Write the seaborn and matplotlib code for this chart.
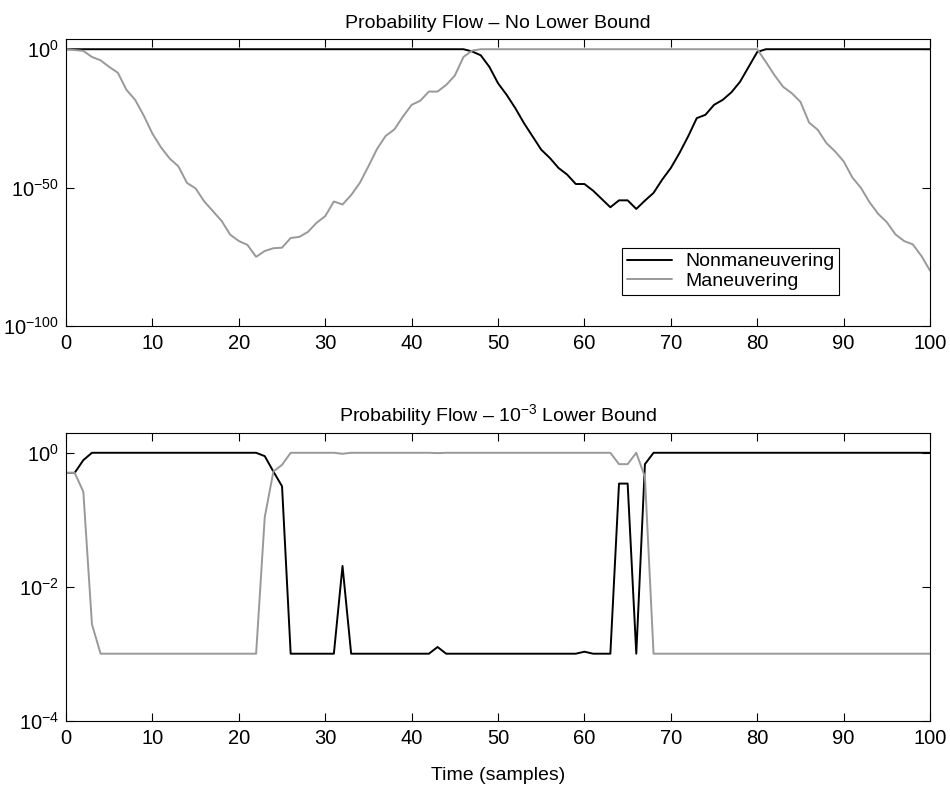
import numpy as np
import pandas as pd
import matplotlib
matplotlib.use('Agg')
import matplotlib.pyplot as plt
import matplotlib.ticker as mticker
import seaborn as sns

# samples 0..100
t = list(range(101))

# top panel, log10 of probability (no lower bound)
nonman_top = ([0] * 47 +
              [-0.8, -2.2, -6.4, -12.3, -16.5, -21.3, -26.7, -31.5, -36.3, -39.3,
               -42.9, -45.3, -48.7, -48.7, -51.1, -54.1, -57.1, -54.6, -54.6, -57.7,
               -54.7, -51.9, -47.1, -42.9, -37.5, -31.5, -24.9, -23.7, -20.1, -18.3,
               -15.6, -11.8, -6.4, -1.0] +
              [0] * 20)
man_top = ([0, -0.3, -0.6, -2.8, -4.0, -6.4, -8.5, -14.7, -18.3, -24.0,
            -30.5, -35.5, -39.5, -42.3, -48.3, -50.3, -55.0, -58.5, -62.0, -67.0,
            -69.3, -70.7, -75.0, -72.9, -71.9, -71.7, -68.2, -67.8, -66.0, -62.7,
            -60.3, -55.0, -56.1, -52.7, -48.3, -42.3, -36.0, -31.3, -29.0, -24.3,
            -20.1, -18.6, -15.3, -15.3, -12.9, -9.5, -2.8, -0.5] +
           [0] * 33 +
           [-4.6, -9.4, -13.6, -15.9, -19.0, -26.5, -29.1, -33.9, -36.9, -40.5,
            -46.3, -50.1, -55.3, -59.5, -62.5, -66.9, -69.3, -70.5, -74.7, -80.0])

# bottom panel, log10 of probability (1e-3 lower bound)
nonman_low = ([-0.3, -0.3, -0.11] + [0] * 20 + [-0.05, -0.28, -0.5] +
              [-3] * 6 + [-1.69] + [-3] * 10 + [-2.9] + [-3] * 16 + [-2.97] +
              [-3] * 3 + [-0.46, -0.46, -3, -0.17] + [0] * 33)
man_low = ([-0.3, -0.3, -0.58, -2.56] + [-3] * 19 + [-0.96, -0.28, -0.18] +
           [0] * 6 + [-0.015] + [0] * 10 + [-0.005] + [0] * 20 +
           [-0.17, -0.17, 0, -0.36] + [-3] * 33)

labels = ['Nonmaneuvering', 'Maneuvering']
colors = {'Nonmaneuvering': '#000000', 'Maneuvering': '#999999'}


def make_df(a, b):
    df = pd.DataFrame({'t': t * 2,
                       'p': 10.0 ** np.array(a + b, dtype=float),
                       'mode': [labels[0]] * len(a) + [labels[1]] * len(b)})
    return df


sns.set_theme(style='ticks')
plt.rcParams['font.family'] = ['Liberation Sans', 'DejaVu Sans']
plt.rcParams['mathtext.fontset'] = 'custom'
plt.rcParams['mathtext.rm'] = 'Liberation Sans'
plt.rcParams['mathtext.it'] = 'Liberation Sans:italic'
plt.rcParams['font.size'] = 14
for key in ['text.color', 'axes.labelcolor', 'xtick.color', 'ytick.color',
            'xtick.labelcolor', 'ytick.labelcolor', 'axes.edgecolor']:
    plt.rcParams[key] = 'black'
plt.rcParams['axes.linewidth'] = 0.8
plt.rcParams['xtick.direction'] = 'in'
plt.rcParams['ytick.direction'] = 'in'
plt.rcParams['xtick.top'] = True
plt.rcParams['ytick.right'] = True
plt.rcParams['xtick.major.size'] = 6
plt.rcParams['ytick.major.size'] = 6
plt.rcParams['xtick.major.width'] = 0.8
plt.rcParams['ytick.major.width'] = 0.8
plt.rcParams['xtick.labelsize'] = 14.5
plt.rcParams['ytick.labelsize'] = 14.5

fig = plt.figure(figsize=(9.5, 7.89), dpi=100)
ax1 = fig.add_axes([0.0695, 0.5868, 0.9095, 0.3638])
ax2 = fig.add_axes([0.0695, 0.0866, 0.9095, 0.3650])

sns.lineplot(data=make_df(nonman_top, man_top), x='t', y='p', hue='mode',
             hue_order=labels, palette=colors, linewidth=1.4, ax=ax1)
sns.lineplot(data=make_df(nonman_low, man_low), x='t', y='p', hue='mode',
             hue_order=labels, palette=colors, linewidth=1.4, ax=ax2,
             legend=False)

ax1.set_yscale('log')
ax1.set_ylim(1e-100, 10 ** 3.7)
ax1.yaxis.set_major_locator(mticker.FixedLocator([1e-100, 1e-50, 1e0]))
ax1.set_title('Probability Flow \u2013 No Lower Bound', fontsize=14, pad=8)

ax2.set_yscale('log')
ax2.set_ylim(1e-4, 10 ** 0.3)
ax2.yaxis.set_major_locator(mticker.FixedLocator([1e-4, 1e-2, 1e0]))
ax2.set_title('Probability Flow \u2013 10$^{-3}$ Lower Bound', fontsize=14, pad=8)
ax2.set_xlabel('Time (samples)', fontsize=14, labelpad=14)

for ax in (ax1, ax2):
    ax.yaxis.set_minor_locator(mticker.NullLocator())
    ax.set_xlim(0, 100)
    ax.set_xticks(range(0, 101, 10))
    ax.set_ylabel('')
    ax.tick_params(axis='x', pad=6)
    ax.tick_params(axis='y', pad=5)
    for s in ax.spines.values():
        s.set_visible(True)
        s.set_color('black')
ax1.set_xlabel('')

handles, _ = ax1.get_legend_handles_labels()
leg = ax1.legend(handles, labels, loc='upper left', bbox_to_anchor=(0.6435, 0.272),
                 fontsize=14, frameon=True, fancybox=False, framealpha=1,
                 edgecolor='black', handlelength=2.3, borderpad=0.25,
                 labelspacing=0.1, handletextpad=0.7, borderaxespad=0)
leg.get_frame().set_linewidth(0.8)

fig.savefig('out.png', dpi=100)
